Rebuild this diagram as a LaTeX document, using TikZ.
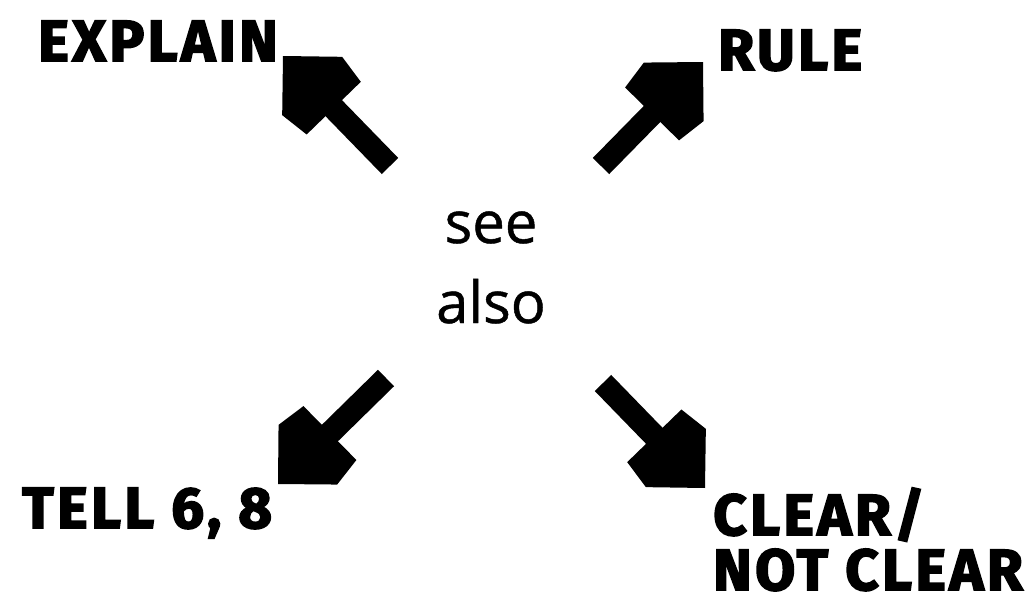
\documentclass[tikz,border=0pt]{standalone}
\usepackage{fontspec}
\usetikzlibrary{arrows.meta}
\newfontfamily\heavyfont{Fira Sans}[BoldFeatures={FakeBold=3,LetterSpace=6}]
\newfontfamily\seefont{Open Sans}[FakeBold=0.8]

% block arrow head, tip pointing right, sizes in pt
\pgfdeclarearrow{
  name=BlockHead,
  setup code={
    \pgfarrowssettipend{0pt}
    \pgfarrowssetlineend{-38pt}
    \pgfarrowssetbackend{-41.4pt}
    \pgfarrowssetvisualbackend{-41.4pt}
    \pgfarrowshullpoint{0pt}{0pt}
    \pgfarrowshullpoint{-23.8pt}{23.8pt}
    \pgfarrowshullpoint{-23.8pt}{-23.8pt}
    \pgfarrowshullpoint{-41.4pt}{21.5pt}
    \pgfarrowshullpoint{-41.4pt}{-21.5pt}
  },
  drawing code={
    \pgfpathmoveto{\pgfqpoint{0pt}{0pt}}
    \pgfpathlineto{\pgfqpoint{-23.8pt}{23.8pt}}
    \pgfpathlineto{\pgfqpoint{-41.4pt}{21.5pt}}
    \pgfpathlineto{\pgfqpoint{-41.4pt}{-21.5pt}}
    \pgfpathlineto{\pgfqpoint{-23.8pt}{-23.8pt}}
    \pgfpathclose
    \pgfusepathqfill
  }
}

\begin{document}
\begin{tikzpicture}[
  x=0.2mm, y=-0.2mm,
  lbl/.style={anchor=base west, inner sep=0pt, font=\heavyfont\bfseries\fontsize{33}{33}\selectfont},
  word/.style={anchor=base, inner sep=0pt, font=\seefont\fontsize{33}{33}\selectfont},
  fat/.style={line width=4.6mm, -BlockHead},
]
\useasboundingbox (0,0) rectangle (1027,607);
% centre words
\node[word] (see) at (491,243) {see};
\node[word] (also) at (491,323) {also};
% the four targets
\node[lbl] (explain) at (38,61) {EXPLAIN};
\node[lbl] (rule) at (718,70) {RULE};
\node[lbl] (tell) at (22,528) {TELL 6, 8};
\node[lbl] (clear) at (713,535) {CLEAR/};
\node[lbl] (notclear) at (713,590) {NOT CLEAR};
% arrow ends
\coordinate (nwA) at (390,166);
\coordinate (nwB) at (283,56);
\coordinate (neA) at (601,166);
\coordinate (neB) at (703,62);
\coordinate (swA) at (386,378);
\coordinate (swB) at (278,484);
\coordinate (seA) at (603,383);
\coordinate (seB) at (705,488);
\draw[fat] (nwA) -- (nwB);
\draw[fat] (neA) -- (neB);
\draw[fat] (swA) -- (swB);
\draw[fat] (seA) -- (seB);
\end{tikzpicture}
\end{document}
